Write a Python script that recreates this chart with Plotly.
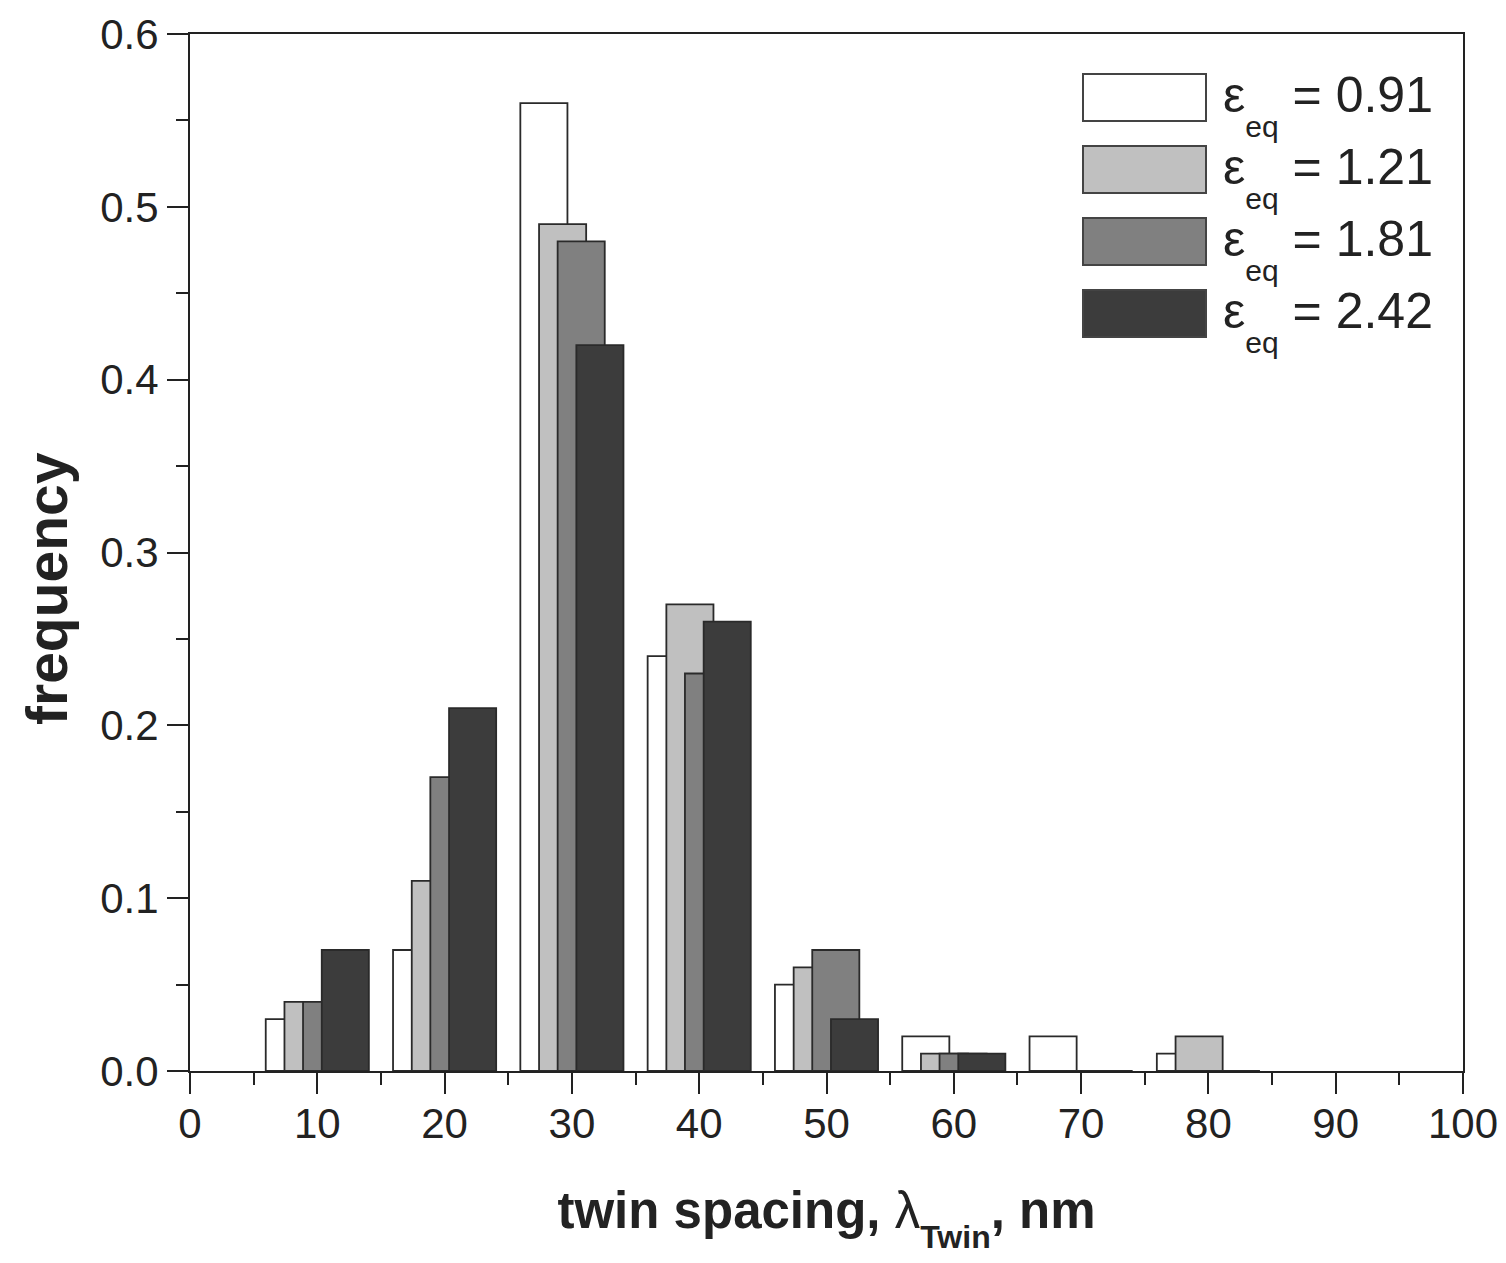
import plotly.graph_objects as go

# ---- data ----
spacing_bins = [10, 20, 30, 40, 50, 60, 70, 80]
strain_labels = ["0.91", "1.21", "1.81", "2.42"]
freq_091 = [0.03, 0.07, 0.56, 0.24, 0.05, 0.02, 0.02, 0.01]
freq_121 = [0.04, 0.11, 0.49, 0.27, 0.06, 0.01, 0.00, 0.02]
freq_181 = [0.04, 0.17, 0.48, 0.23, 0.07, 0.01, 0.00, 0.00]
freq_242 = [0.07, 0.21, 0.42, 0.26, 0.03, 0.01, 0.00, 0.00]
x_ticks = [0, 10, 20, 30, 40, 50, 60, 70, 80, 90, 100]
y_ticks = [0.0, 0.1, 0.2, 0.3, 0.4, 0.5, 0.6]

series = [freq_091, freq_121, freq_181, freq_242]
fills = ["#ffffff", "#c0c0c0", "#808080", "#3c3c3c"]
offsets = [-4.05, -2.58, -1.12, 0.35]
BAR_W = 3.7
INK = "#222222"
FONT = "Liberation Sans, Arial, sans-serif"

# page body adds an 8px margin; compensate so the plot lands where the reference has it
PAGE = 8
W, H = 1506 - PAGE, 1263 - PAGE
L, R, T, B = 190 - PAGE, 43, 34 - PAGE, 192
PW, PH = W - L - R, H - T - B


def px(xp):
    # xp: pixel position in the reference screenshot
    return (xp - PAGE - L) / PW


def py(yp):
    return (H - B - (yp - PAGE)) / PH


fig = go.Figure()
for vals, col, off, lab in zip(series, fills, offsets, strain_labels):
    fig.add_trace(go.Bar(
        x=spacing_bins, y=vals, width=BAR_W, offset=off,
        marker=dict(color=col, line=dict(color="#2a2a2a", width=1.8)),
        opacity=1, name="ε_eq = " + lab,
    ))

# legend drawn manually (large swatches)
shapes = []
annotations = []
for i, (col, lab) in enumerate(zip(fills, strain_labels)):
    top = 74 + 72 * i
    bot = top + 47
    shapes.append(dict(type="rect", xref="paper", yref="paper",
                       x0=px(1083), x1=px(1206), y0=py(bot), y1=py(top),
                       fillcolor=col, line=dict(color="#444444", width=2)))
    annotations.append(dict(
        xref="paper", yref="paper", x=px(1221), y=py(top + 31),
        xanchor="left", yanchor="middle", showarrow=False,
        text="ε<span style='font-size:30px;baseline-shift:-25px'>eq</span> = " + lab,
        font=dict(size=50, family=FONT, color=INK)))

annotations.append(dict(
    xref="paper", yref="paper", x=px(47), y=py(589),
    xanchor="center", yanchor="middle", showarrow=False, textangle=-90,
    text="<b>frequency</b>", font=dict(size=57, family=FONT, color=INK)))

fig.update_layout(
    width=W, height=H,
    margin=dict(l=L, r=R, t=T, b=B, autoexpand=False),
    plot_bgcolor="white", paper_bgcolor="white",
    barmode="overlay", showlegend=False,
    font=dict(family=FONT, color=INK),
    shapes=shapes, annotations=annotations,
)

axis_common = dict(
    showgrid=False, zeroline=False, showline=True, linewidth=2, linecolor=INK,
    mirror=True, ticks="outside", ticklen=21, tickwidth=2, tickcolor=INK,
    tickfont=dict(size=42, family=FONT, color=INK), automargin=False,
)

fig.update_xaxes(
    range=[0, 100], tickmode="array", tickvals=x_ticks,
    ticktext=[str(v) for v in x_ticks], ticklabelstandoff=-6,
    minor=dict(dtick=5, tick0=0, ticks="outside", ticklen=12, tickwidth=2, tickcolor=INK),
    title=dict(
        text="<b>twin spacing, <span style='font-weight:normal'>λ</span>"
             "<span style='font-size:32px;baseline-shift:-20px'>Twin</span>, nm</b>",
        font=dict(size=51, family=FONT, color=INK), standoff=46),
    **axis_common)

fig.update_yaxes(
    range=[0, 0.6], tickmode="array", tickvals=y_ticks,
    ticktext=["%.1f" % v for v in y_ticks],
    minor=dict(dtick=0.05, tick0=0, ticks="outside", ticklen=12, tickwidth=2, tickcolor=INK),
    **axis_common)

fig.write_html("out.html")
